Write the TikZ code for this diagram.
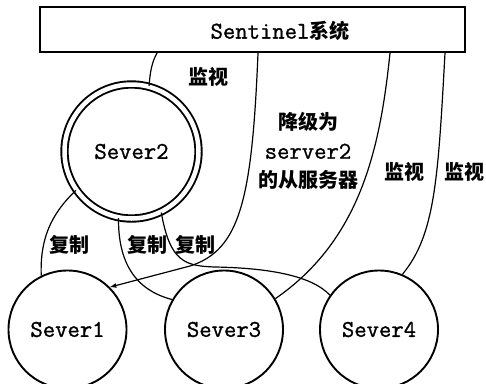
\documentclass[tikz,border=0pt]{standalone}
\usepackage{fontspec}
\newfontfamily\cour{Latin Modern Mono}[FakeBold=1.2]
\newfontfamily\cjk{Noto Sans CJK SC}
\usetikzlibrary{positioning}

\begin{document}
\begin{tikzpicture}[x=1pt, y=-1pt, >=latex, line width=1.2pt]
        \tikzset{
            srv/.style   ={draw, circle, line width=1.9pt, minimum size=118pt, inner sep=0pt,
                           font=\fontsize{24}{28}\selectfont\cour},
            master/.style={srv, double, double distance=4.5pt, line width=1.9pt, minimum size=134pt},
            box/.style   ={draw, rectangle, line width=1.9pt, minimum width=425pt, minimum height=45pt},
            lbl/.style   ={font=\fontsize{20}{29}\selectfont\cjk\bfseries, inner sep=1pt, align=center}
        }
        \useasboundingbox (0,0) rectangle (486,383);
        %% ---- Bloques ----
        \node[box]    (sen) at (252.5, 29.5) {};
        \node[font=\fontsize{24}{28}\selectfont] (senlbl) at (280, 31)
            {{\cour Sentinel}{\fontsize{20}{28}\selectfont\cjk\bfseries 系统}};
        \node[master] (s2)  at (131.5, 151.5) {Sever2};
        \node[srv]    (s1)  at (67.5,  329.5) {Sever1};
        \node[srv]    (s3)  at (224,   329.5) {Sever3};
        \node[srv]    (s4)  at (379,   329.5) {Sever4};
        %% ---- Sentinel -> servidores ----
        \draw ([xshift=-95.5pt]sen.south) .. controls (152, 62) and (150, 72) .. (s2.75);
        \draw[->] ([xshift=5.5pt]sen.south) .. controls (252, 200) and (240, 250) .. (190, 266)
            -- (s1.45);
        \draw ([xshift=137.5pt]sen.south) .. controls (380, 150) and (360, 240) .. (s3.31);
        \draw ([xshift=192.5pt]sen.south) .. controls (438, 180) and (435, 235) .. (s4.67);
        %% ---- Sever2 -> esclavos ----
        \draw (s2.215) .. controls (50, 215) and (40, 240) .. (s1.116);
        \draw (s2.259) .. controls (118, 262) and (135, 290) .. (s3.150);
        \draw (s2.296) .. controls (170, 262) and (185, 266) .. (215, 267)
            .. controls (270, 268) and (312, 276) .. (s4.145);
        %% ---- Etiquetas ----
        \node[lbl] (mon2) at (208, 77)  {监视};
        \node[lbl] (dem)  at (308, 151)
            {降级为\\{\fontsize{24}{29}\selectfont\mdseries\cour server2}\\的从服务器};
        \node[lbl] (mon3) at (404, 172) {监视};
        \node[lbl] (mon4) at (464, 172) {监视};
        \node[lbl] (rep1) at (69,  245) {复制};
        \node[lbl] (rep3) at (147, 245) {复制};
        \node[lbl] (rep4) at (195, 245) {复制};
    \end{tikzpicture}
\end{document}
